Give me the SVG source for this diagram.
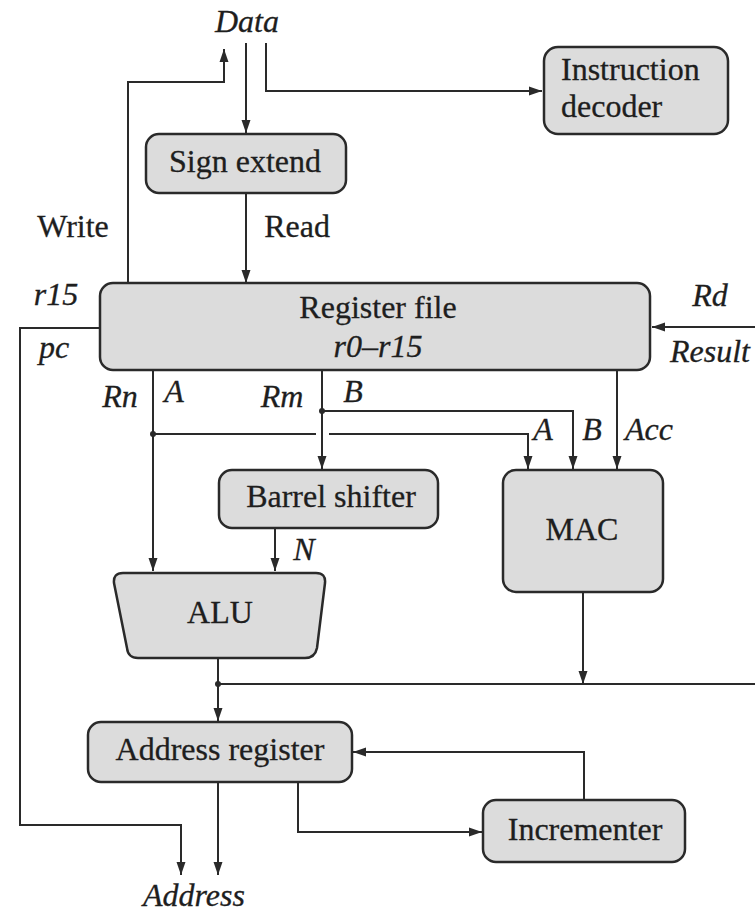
<svg xmlns="http://www.w3.org/2000/svg" width="755" height="913" viewBox="0 0 755 913" font-family="Liberation Serif" font-size="32">
<style>
.box{fill:#dcdcdc;stroke:#2a2a2a;stroke-width:2.5}
.ln{fill:none;stroke:#2a2a2a;stroke-width:2}
text{fill:#1e1e1e;stroke:#1e1e1e;stroke-width:0.3;text-anchor:middle}
.i{font-style:italic}
.s{text-anchor:start}
</style>
<defs>
<marker id="ah" markerUnits="userSpaceOnUse" markerWidth="14" markerHeight="10" refX="13" refY="5" orient="auto">
<path d="M0,0.5 L13,5 L0,9.5 z" fill="#2a2a2a"/>
</marker>
</defs>
<rect width="755" height="913" fill="#fff"/>
<g id="connectors">
<path class="ln" d="M128,283 V82 H224 V49" marker-end="url(#ah)"/>
<path class="ln" d="M246,43 V133" marker-end="url(#ah)"/>
<path class="ln" d="M266,43 V91 H542" marker-end="url(#ah)"/>
<path class="ln" d="M246,193 V283" marker-end="url(#ah)"/>
<path class="ln" d="M755,327 H652" marker-end="url(#ah)"/>
<path class="ln" d="M100,328 H20 V825 H181 V875" marker-end="url(#ah)"/>
<path class="ln" d="M153,370 V571" marker-end="url(#ah)"/>
<path class="ln" d="M153,434 H316"/>
<path class="ln" d="M329,434 H528 V469" marker-end="url(#ah)"/>
<path class="ln" d="M322,370 V469" marker-end="url(#ah)"/>
<path class="ln" d="M322,411 H573 V469" marker-end="url(#ah)"/>
<path class="ln" d="M617,370 V469" marker-end="url(#ah)"/>
<path class="ln" d="M275,528 V571" marker-end="url(#ah)"/>
<path class="ln" d="M218,658 V721" marker-end="url(#ah)"/>
<path class="ln" d="M218,684 H755"/>
<path class="ln" d="M583,592 V684" marker-end="url(#ah)"/>
<path class="ln" d="M584,800 V752 H353" marker-end="url(#ah)"/>
<path class="ln" d="M218,782 V875" marker-end="url(#ah)"/>
<path class="ln" d="M298,782 V832 H482" marker-end="url(#ah)"/>
<circle cx="153" cy="434" r="3" fill="#2a2a2a"/>
<circle cx="322" cy="411" r="3" fill="#2a2a2a"/>
<circle cx="218" cy="684" r="3" fill="#2a2a2a"/>
</g>
<g id="labels">
<text class="i" x="247" y="32">Data</text>
<text x="73" y="237">Write</text>
<text x="297" y="237">Read</text>
<text class="i" x="56" y="305">r15</text>
<text class="i" x="54" y="358">pc</text>
<text class="i" x="710" y="306">Rd</text>
<text class="i" x="710" y="362">Result</text>
<text class="i" x="120" y="407">Rn</text>
<text class="i" x="174" y="402">A</text>
<text class="i" x="282" y="407">Rm</text>
<text class="i" x="353" y="402">B</text>
<text class="i" x="543" y="440">A</text>
<text class="i" x="592" y="440">B</text>
<text class="i" x="649" y="440">Acc</text>
<text class="i" x="304" y="560">N</text>
<text class="i" x="194" y="906">Address</text>
</g>
<g id="instruction-decoder">
<rect class="box" x="544" y="47" width="184" height="87" rx="14"/>
<text class="s" x="561" y="80">Instruction</text>
<text class="s" x="561" y="117">decoder</text>
</g>
<g id="sign-extend">
<rect class="box" x="146" y="134" width="200" height="59" rx="13"/>
<text x="245" y="172">Sign extend</text>
</g>
<g id="register-file">
<rect class="box" x="100" y="283" width="550" height="87" rx="13"/>
<text x="378" y="318">Register file</text>
<text class="i" x="378" y="357">r0–r15</text>
</g>
<g id="barrel-shifter">
<rect class="box" x="219" y="470" width="219" height="58" rx="13"/>
<text x="331" y="507">Barrel shifter</text>
</g>
<g id="mac">
<rect class="box" x="503" y="470" width="160" height="122" rx="13"/>
<text x="582" y="540">MAC</text>
</g>
<g id="alu">
<path class="box" d="M123,573 H316 Q326,573 325,583 L317,648 Q315,658 305,658 H138 Q128,658 127,648 L114,583 Q113,573 123,573 Z"/>
<text x="220" y="623">ALU</text>
</g>
<g id="address-register">
<rect class="box" x="88" y="722" width="264" height="60" rx="13"/>
<text x="220" y="760">Address register</text>
</g>
<g id="incrementer">
<rect class="box" x="483" y="800" width="202" height="62" rx="13"/>
<text x="585" y="840">Incrementer</text>
</g>
</svg>
